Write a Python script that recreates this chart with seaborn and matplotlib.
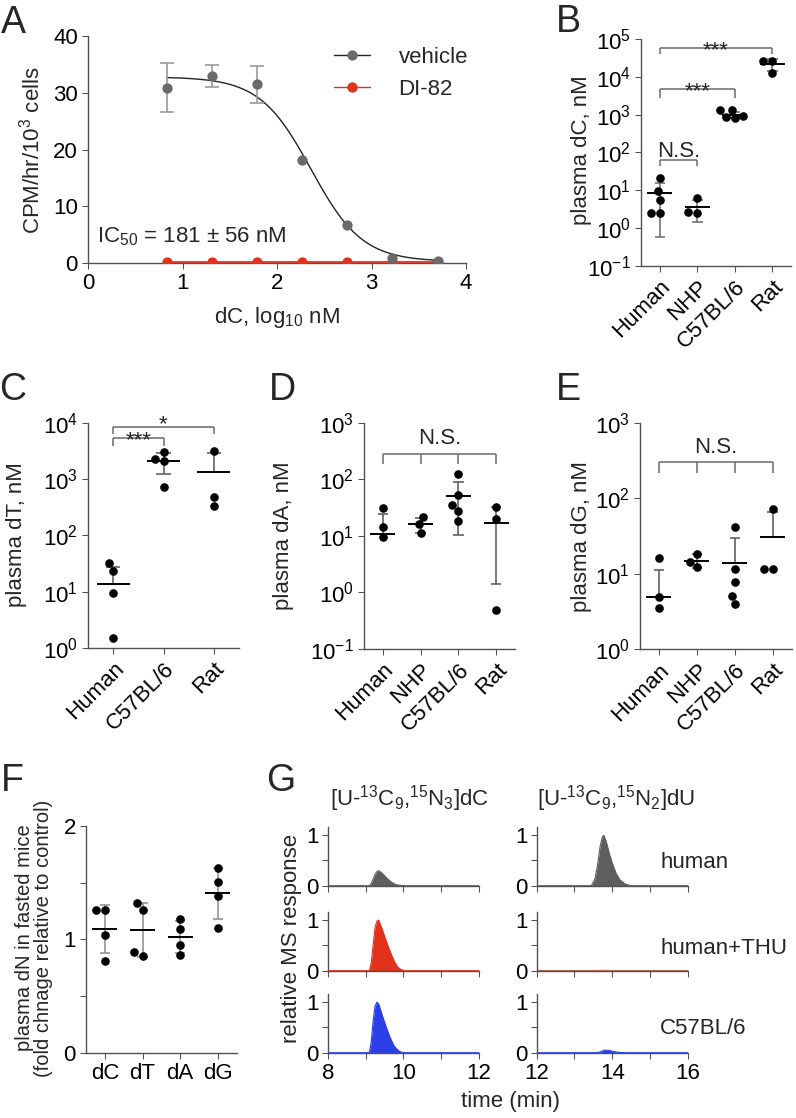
import numpy as np
import pandas as pd
import matplotlib
matplotlib.use("Agg")
import matplotlib.pyplot as plt
from matplotlib.lines import Line2D
from matplotlib.ticker import NullLocator
import seaborn as sns

# ---------------- data ----------------
# Panel A : dose response (log10 nM)
dose_log10 = [0.836, 1.313, 1.790, 2.268, 2.745, 3.222, 3.699]
vehicle_cpm = [30.9, 33.0, 31.5, 18.1, 6.7, 1.0, 0.4]
vehicle_sd = [4.3, 1.9, 3.3, 0.0, 0.0, 0.0, 0.0]
di82_cpm = [0.2, 0.2, 0.2, 0.2, 0.2, 0.2, 0.2]
fit_top, fit_bottom, fit_log_ic50, fit_hill = 32.8, 0.3, 2.36, 1.6

species4 = ["Human", "NHP", "C57BL/6", "Rat"]
species3 = ["Human", "C57BL/6", "Rat"]

# Panel B : plasma dC, nM
dC_human = [21.4, 9.5, 5.7, 2.45, 2.5]
dC_nhp = [6.1, 2.5, 2.7]
dC_c57 = [1350, 1300, 950, 880, 820]
dC_rat = [26700, 26000, 12800]
dC_mean = [8.3, 3.6, 1000, 21400]
dC_sd = [7.7, 2.1, 180, 7500]

# Panel C : plasma dT, nM
dT_human = [31.8, 23.5, 9.6, 1.5]
dT_c57 = [3055, 2090, 2240, 730]
dT_rat = [3180, 336, 485]
dT_mean = [13.5, 2080, 1315]
dT_sd = [14.1, 850, 1545]

# Panel D : plasma dA, nM
dA_human = [31.3, 14.1, 9.6]
dA_nhp = [21.7, 15.9, 11.3]
dA_c57 = [122, 52.5, 34.9, 27.4, 18.2]
dA_rat = [31.8, 19.5, 0.48]
dA_mean = [11.0, 16.1, 50.5, 17.0]
dA_sd = [13.0, 4.9, 40.2, 15.6]

# Panel E : plasma dG, nM
dG_human = [16.3, 4.96, 3.55]
dG_nhp = [18.2, 14.4, 12.2]
dG_c57 = [42.0, 11.6, 7.76, 5.07, 3.94]
dG_rat = [71.3, 11.4, 11.4]
dG_mean = [4.96, 14.9, 14.0, 30.9]
dG_sd = [6.4, 3.1, 16.0, 34.2]

# Panel F : fold change in fasted mice
nucleosides = ["dC", "dT", "dA", "dG"]
fc_dC = [1.259, 1.259, 1.038, 0.812]
fc_dT = [1.318, 1.259, 0.853, 0.888]
fc_dA = [1.180, 1.089, 0.950, 0.862]
fc_dG = [1.627, 1.509, 1.382, 1.097]
fc_mean = [1.091, 1.082, 1.021, 1.406]
fc_sd = [0.213, 0.242, 0.143, 0.226]

# Panel G : chromatograms (relative MS response)
time_dC = [8.0, 9.10, 9.15, 9.20, 9.25, 9.30, 9.35, 9.45, 9.55, 9.65, 9.75, 9.85, 9.95, 10.05, 12.0]
dC_trace_human = [0, 0, 0.04, 0.13, 0.22, 0.28, 0.30, 0.24, 0.16, 0.09, 0.04, 0.015, 0.005, 0, 0]
dC_trace_thu = [0, 0, 0.15, 0.50, 0.85, 0.98, 1.00, 0.80, 0.58, 0.38, 0.20, 0.07, 0.02, 0, 0]
dC_trace_c57 = [0, 0, 0.20, 0.62, 0.92, 1.00, 0.96, 0.72, 0.50, 0.30, 0.14, 0.05, 0.01, 0, 0]
time_dU = [12.0, 13.45, 13.55, 13.62, 13.68, 13.74, 13.78, 13.84, 13.92, 14.0, 14.1, 14.2, 14.35, 14.5, 16.0]
dU_trace_human = [0, 0, 0.15, 0.45, 0.78, 0.97, 1.00, 0.88, 0.65, 0.45, 0.25, 0.12, 0.03, 0, 0]
dU_trace_thu = [0.006, 0.006, 0.006, 0.007, 0.008, 0.009, 0.01, 0.01, 0.008, 0.007, 0.006, 0.006, 0.006, 0.006, 0.006]
dU_trace_c57 = [0, 0, 0, 0.005, 0.015, 0.035, 0.05, 0.05, 0.045, 0.03, 0.015, 0.005, 0, 0, 0]
sample_names = ["human", "human+THU", "C57BL/6"]

# ---------------- style ----------------
W, H = 796, 1118
sns.set_theme(style="ticks")
plt.rcParams["font.family"] = ["Liberation Sans", "DejaVu Sans"]
plt.rcParams.update({
    "mathtext.fontset": "custom",
    "mathtext.rm": "Liberation Sans",
    "mathtext.it": "Liberation Sans:italic",
    "mathtext.bf": "Liberation Sans:bold",
    "mathtext.sf": "Liberation Sans",
    "mathtext.default": "regular",
})
FS = 16
TFS = 16
LFS = 27
SPC = "#505050"
RED = "#E2321B"
BLUE = "#2B3FE8"
GREY = "#5E5E5E"

fig = plt.figure(figsize=(W / 100, H / 100), dpi=100)
fig.patch.set_facecolor("white")


def fx(x):
    return x / W


def fy(y):
    return 1 - y / H


def add_ax(l, t, r, b):
    return fig.add_axes([l / W, 1 - b / H, (r - l) / W, (b - t) / H])


def style(ax):
    sns.despine(ax=ax)
    for s in ("left", "bottom"):
        ax.spines[s].set_color(SPC)
        ax.spines[s].set_linewidth(1.0)
    ax.tick_params(which="both", direction="out", length=4.3, width=0.75,
                   color=SPC, labelsize=TFS, pad=3, labelcolor="black")
    ax.set_facecolor("none")


def ylabel_at(ax, text, x, y, **kw):
    ax.set_ylabel(text, fontsize=FS, va="center", ha="center", **kw)
    ax.yaxis.set_label_coords(fx(x), fy(y), transform=fig.transFigure)


def xlabel_at(ax, text, x, y):
    ax.set_xlabel(text, fontsize=FS, va="center", ha="center")
    ax.xaxis.set_label_coords(fx(x), fy(y), transform=fig.transFigure)


def letter(s, x, y):
    fig.text(fx(x), fy(y), s, fontsize=LFS, ha="center", va="center")


def dot_panel(ax, groups, values, means, sds, log, err_color, size=6.2):
    df = pd.DataFrame({"group": [g for g, v in zip(groups, values) for _ in v],
                       "value": [x for v in values for x in v]})
    sns.swarmplot(data=df, x="group", y="value", order=groups, color="black",
                  size=size, linewidth=0, ax=ax, log_scale=(True if log else None), zorder=3)
    for i, (m, s) in enumerate(zip(means, sds)):
        hi, lo = m + s, m - s
        has_lo = (lo > 0) or (not log)
        ax.vlines(i, lo if has_lo else m, hi, color=err_color, lw=1.1, zorder=1)
        ax.hlines(hi, i - 0.14, i + 0.14, color=err_color, lw=1.1, zorder=1)
        if has_lo:
            ax.hlines(lo, i - 0.14, i + 0.14, color=err_color, lw=1.1, zorder=1)
        ax.hlines(m, i - 0.33, i + 0.33, color="black", lw=1.4, zorder=4)
    ax.set_xlim(-0.5, len(groups) - 0.5)
    ax.set_xticks(range(len(groups)))
    ax.set_xlabel("")


def log_ticks(ax, lo, hi):
    exps = list(range(lo, hi + 1))
    ax.set_yticks([10.0 ** e for e in exps])
    ax.set_yticklabels(["10$^{%d}$" % e for e in exps])
    ax.yaxis.set_minor_locator(NullLocator())
    ax.set_ylim(10.0 ** lo, 10.0 ** hi)


def rot_labels(ax, groups):
    ax.set_xticklabels(groups, rotation=45, ha="right", va="top",
                       rotation_mode="anchor", fontsize=TFS)


def bracket(ax, xs, y_line, y_leg, label, fs, off, color="#6a6a6a"):
    ax.plot([xs[0], xs[-1]], [y_line, y_line], color=color, lw=1.1, solid_capstyle="butt")
    for x in xs:
        ax.plot([x, x], [y_line, y_leg], color=color, lw=1.1, solid_capstyle="butt")
    ax.annotate(label, xy=((xs[0] + xs[-1]) / 2, y_line), xytext=(0, off),
                textcoords="offset points", ha="center", va="baseline", fontsize=fs)


# ---------------- Panel A ----------------
axA = add_ax(88, 36, 466, 263.3)
style(axA)
xfit = np.linspace(dose_log10[0], dose_log10[-1], 300)
yfit = fit_bottom + (fit_top - fit_bottom) / (1 + 10 ** ((xfit - fit_log_ic50) * fit_hill))
sns.lineplot(x=xfit, y=yfit, color="#222222", lw=1.0, ax=axA)
sns.lineplot(x=dose_log10, y=di82_cpm, color=RED, lw=1.3, marker="o", markersize=7.4,
             markeredgewidth=0, ax=axA, zorder=4)
has_err = [i for i, s in enumerate(vehicle_sd) if s > 0]
axA.errorbar([dose_log10[i] for i in has_err], [vehicle_cpm[i] for i in has_err],
             yerr=[vehicle_sd[i] for i in has_err], fmt="none", ecolor="#9a9a9a",
             elinewidth=1.2, capsize=5, capthick=1.2, zorder=2)
sns.scatterplot(x=dose_log10, y=vehicle_cpm, color="#6a6a6a", s=55, linewidth=0, ax=axA, zorder=5)
axA.set_xlim(0, 4)
axA.set_ylim(0, 40)
axA.set_xticks([0, 1, 2, 3, 4])
axA.set_yticks([0, 10, 20, 30, 40])
axA.text(0.1, 4.6, "IC$_{50}$ = 181 ± 56 nM", fontsize=FS, ha="left", va="center")
h1 = Line2D([], [], color="#222222", lw=1.0, marker="o", markersize=7.4,
            markerfacecolor="#6a6a6a", markeredgewidth=0)
h2 = Line2D([], [], color=RED, lw=1.0, marker="o", markersize=7.4,
            markerfacecolor=RED, markeredgewidth=0)
axA.legend([h1, h2], ["vehicle", "DI-82"], loc="upper left",
           bbox_to_anchor=(fx(334), fy(47)), bbox_transform=fig.transFigure,
           frameon=False, fontsize=FS, handlelength=1.6, handletextpad=1.3,
           labelspacing=0.5, borderaxespad=0, borderpad=0)
ylabel_at(axA, "CPM/hr/10$^{3}$ cells", 32, 150)
xlabel_at(axA, "dC, log$_{10}$ nM", 277, 317)

# ---------------- Panel B ----------------
axB = add_ax(641, 39, 791, 266)
dot_panel(axB, species4, [dC_human, dC_nhp, dC_c57, dC_rat], dC_mean, dC_sd, True, "#6a6a6a")
style(axB)
log_ticks(axB, -1, 5)
rot_labels(axB, species4)
bracket(axB, [0, 1], 10 ** 1.8, 10 ** 1.65, "N.S.", FS, 2.2)
bracket(axB, [0, 2], 10 ** 3.677, 10 ** 3.447, "***", FS, -5.8)
bracket(axB, [0, 3], 10 ** 4.76, 10 ** 4.60, "***", FS, -5.8)
ylabel_at(axB, "plasma dC, nM", 581, 150)

# ---------------- Panel C ----------------
axC = add_ax(88, 422.7, 239, 648)
dot_panel(axC, species3, [dT_human, dT_c57, dT_rat], dT_mean, dT_sd, True, "#555555")
style(axC)
log_ticks(axC, 0, 4)
rot_labels(axC, species3)
bracket(axC, [0, 1], 10 ** 3.723, 10 ** 3.591, "***", FS, -5.5)
bracket(axC, [0, 2], 10 ** 3.929, 10 ** 3.80, "*", FS, -2.5)
ylabel_at(axC, "plasma dT, nM", 17, 535)

# ---------------- Panel D ----------------
axD = add_ax(364, 422.7, 515, 649)
dot_panel(axD, species4, [dA_human, dA_nhp, dA_c57, dA_rat], dA_mean, dA_sd, True, "#555555")
style(axD)
log_ticks(axD, -1, 3)
rot_labels(axD, species4)
bracket(axD, [0, 1, 2, 3], 10 ** 2.446, 10 ** 2.264, "N.S.", FS, 7.2)
ylabel_at(axD, "plasma dA, nM", 284, 536)

# ---------------- Panel E ----------------
axE = add_ax(640, 422.7, 791.7, 649.3)
dot_panel(axE, species4, [dG_human, dG_nhp, dG_c57, dG_rat], dG_mean, dG_sd, True, "#555555")
style(axE)
log_ticks(axE, 0, 3)
rot_labels(axE, species4)
bracket(axE, [0, 1, 2, 3], 10 ** 2.476, 10 ** 2.338, "N.S.", FS, 6.5)
ylabel_at(axE, "plasma dG, nM", 582, 536)

# ---------------- Panel F ----------------
axF = add_ax(86, 826, 236.7, 1052.7)
dot_panel(axF, nucleosides, [fc_dC, fc_dT, fc_dA, fc_dG], fc_mean, fc_sd, False, "#8a8a8a")
style(axF)
axF.set_ylim(0, 2)
axF.set_yticks([0, 1, 2])
axF.set_yticks([0.5, 1.5], minor=True)
axF.set_xticklabels(nucleosides, fontsize=TFS)
ylabel_at(axF, "plasma dN in fasted mice\n(fold chnage relative to control)", 34, 938,
          linespacing=0.95)
axF.yaxis.label.set_fontsize(14.5)

# ---------------- Panel G ----------------
row_px = [(826.7, 885.7), (911.5, 970.7), (993.5, 1052.7)]
col_px = [(327.7, 479.0), (536.7, 687.7)]
colors = [GREY, RED, BLUE]
traces = [(dC_trace_human, dU_trace_human), (dC_trace_thu, dU_trace_thu), (dC_trace_c57, dU_trace_c57)]
times = [time_dC, time_dU]
xr = [(8, 12), (12, 16)]
g_axes = {}
for r in range(3):
    for c in range(2):
        l, rr = col_px[c]
        t, b = row_px[r]
        ax = add_ax(l, t, rr, b)
        style(ax)
        tt, vv = times[c], traces[r][c]
        faint = (r == 1 and c == 1)
        sns.lineplot(x=tt, y=vv, color=("#a05040" if faint else colors[r]),
                     lw=(0.6 if faint else 0.8), ax=ax, zorder=3)
        ax.fill_between(tt, 0, vv, color=colors[r], lw=0, zorder=2)
        ax.set_xlim(*xr[c])
        ax.set_ylim(0, 1.17)
        ax.set_yticks([0, 0.5, 1])
        ax.set_yticklabels(["0", "", "1"])
        x0 = xr[c][0]
        ax.set_xticks([x0, x0 + 1, x0 + 2, x0 + 3, x0 + 4])
        if r == 2:
            ax.set_xticklabels([str(x0), "", str(x0 + 2), "", str(x0 + 4)])
        else:
            ax.set_xticklabels([""] * 5)
        ax.tick_params(axis="y", pad=2)
        g_axes[(r, c)] = ax

for r, name in enumerate(sample_names):
    fig.text(fx(660), fy([863, 948, 1028][r]), name, fontsize=FS, ha="left", va="center")
fig.text(fx(330), fy(799), "[U-$^{13}$C$_{9}$,$^{15}$N$_{3}$]dC", fontsize=FS, ha="left", va="center")
fig.text(fx(537), fy(799), "[U-$^{13}$C$_{9}$,$^{15}$N$_{2}$]dU", fontsize=FS, ha="left", va="center")
ylabel_at(g_axes[(1, 0)], "relative MS response", 291, 938)
xlabel_at(g_axes[(2, 0)], "time (min)", 510, 1102)

# ---------------- panel letters ----------------
letter("A", 13, 23)
letter("B", 568, 22)
letter("C", 13, 390)
letter("D", 282, 390)
letter("E", 568, 390)
letter("F", 12, 781)
letter("G", 281, 781)

fig.savefig("out.png", dpi=100, facecolor="white")
